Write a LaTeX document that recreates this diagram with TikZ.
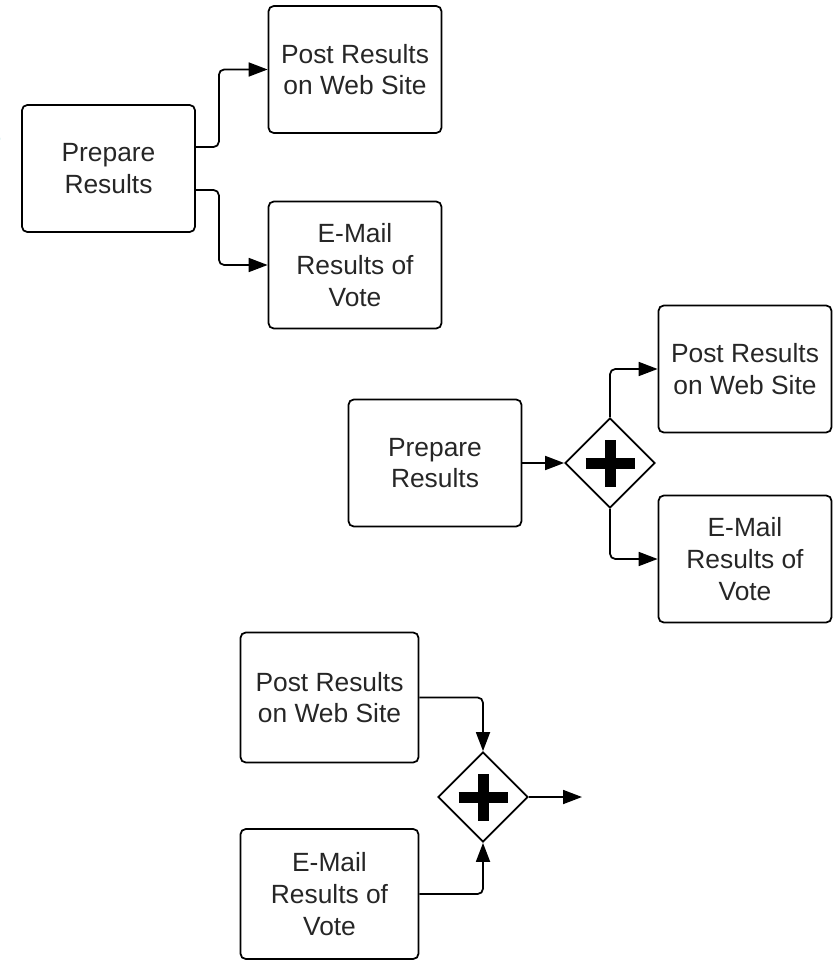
\documentclass[tikz,border=0pt]{standalone}
\usepackage{xcolor}
\usepackage{fontspec}
\setmainfont{Liberation Sans}
\usepackage{tikz}
\usetikzlibrary{shapes.geometric, arrows.meta}

\definecolor{cuttext}{RGB}{0,150,160}

\tikzset{
    task/.style={draw, line width=1pt, rounded corners=3pt, minimum width=3.46cm,
        minimum height=2.54cm, align=center, text=black!85,
        font=\fontsize{15}{18}\selectfont},
    gateway/.style={draw, diamond, line width=1pt, minimum width=1.8cm,
        minimum height=1.8cm, inner sep=0pt,
        path picture={
            \draw[line width=0.22cm] ([xshift=-0.49cm]path picture bounding box.center)
                -- ([xshift=0.49cm]path picture bounding box.center);
            \draw[line width=0.22cm] ([yshift=-0.47cm]path picture bounding box.center)
                -- ([yshift=0.47cm]path picture bounding box.center);
        }},
    flow/.style={line width=1pt, rounded corners=3pt,
        -{Triangle[length=0.38cm, width=0.28cm]}}
}

\begin{document}
\begin{tikzpicture}
    \useasboundingbox (0, 0) rectangle (16.66, -19.2);
    \node[text=cuttext, font=\fontsize{34}{34}\selectfont, anchor=east, inner sep=0pt]
        at (0.08, -2.6) (cut) {S};

    % splitting without a gateway
    \node[task] at (2.17, -3.37) (prep1) {Prepare\\Results};
    \node[task] at (7.1, -1.39) (post1) {Post Results\\on Web Site};
    \node[task] at (7.1, -5.3) (mail1) {E-Mail\\Results of\\Vote};

    \draw[flow] ([yshift=0.43cm]prep1.east) -- ++(0.46, 0) |- (post1.west);
    \draw[flow] ([yshift=-0.43cm]prep1.east) -- ++(0.46, 0) |- (mail1.west);

    % splitting with a parallel gateway
    \node[task] at (8.7, -9.26) (prep2) {Prepare\\Results};
    \node[gateway] at (12.2, -9.26) (gw2) {};
    \node[task] at (14.9, -7.38) (post2) {Post Results\\on Web Site};
    \node[task] at (14.9, -11.18) (mail2) {E-Mail\\Results of\\Vote};

    \draw[flow] (prep2) -- (gw2);
    \draw[flow] (gw2.north) |- (post2.west);
    \draw[flow] (gw2.south) |- (mail2.west);

    % joining with a parallel gateway
    \node[task, minimum width=3.56cm, minimum height=2.6cm] at (6.59, -13.95) (post3) {Post Results\\on Web Site};
    \node[task, minimum width=3.56cm, minimum height=2.6cm] at (6.59, -17.88) (mail3) {E-Mail\\Results of\\Vote};
    \node[gateway] at (9.66, -15.94) (gw3) {};
    \coordinate (end3) at (11.64, -15.94);

    \draw[flow] (post3.east) -| (gw3.north);
    \draw[flow] (mail3.east) -| (gw3.south);
    \draw[flow] (gw3) -- (end3);
\end{tikzpicture}
\end{document}
